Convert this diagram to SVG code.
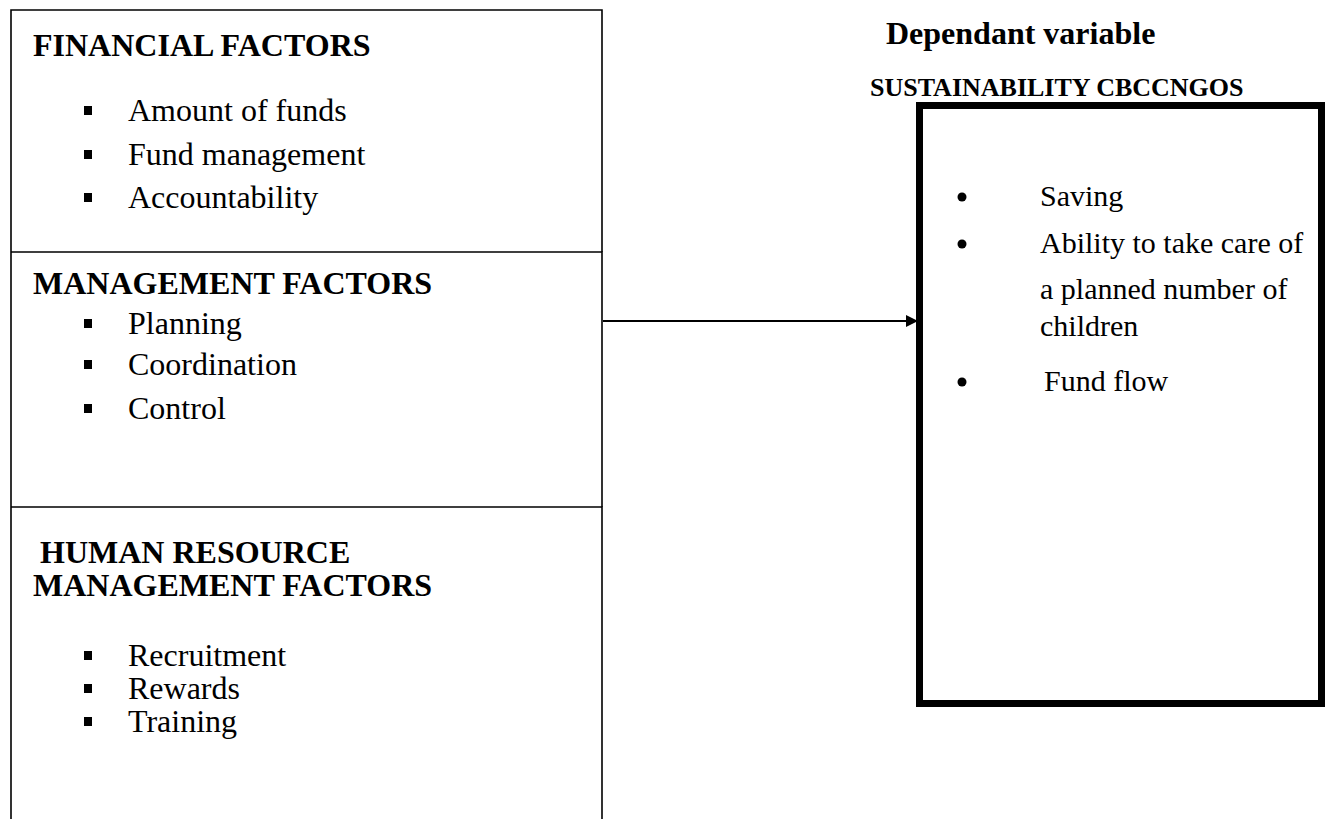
<svg xmlns="http://www.w3.org/2000/svg" width="1325" height="819" viewBox="0 0 1325 819">
<style>
.h{font-family:"Liberation Serif",serif;font-weight:bold;font-size:32px;fill:#000}
.t{font-family:"Liberation Serif",serif;font-size:32px;fill:#000}
.r{font-family:"Liberation Serif",serif;font-size:30px;fill:#000}
.ln{stroke:#000;stroke-width:1.6;fill:none}
.sq{fill:#000}
</style>
<defs>
<marker id="ah" markerWidth="12" markerHeight="12" refX="11" refY="6" orient="auto" markerUnits="userSpaceOnUse">
<path d="M0,0 L12,6 L0,12 Z" fill="#000"/>
</marker>
</defs>
<rect width="1325" height="819" fill="#fff"/>
<g id="financial">
<path class="ln" d="M11,819 L11,10 L602,10 L602,252"/>
<text class="h" x="33" y="56">FINANCIAL FACTORS</text>
<rect class="sq" x="84" y="106" width="8" height="9"/>
<text class="t" x="128" y="121">Amount of funds</text>
<rect class="sq" x="84" y="150" width="8" height="9"/>
<text class="t" x="128" y="165">Fund management</text>
<rect class="sq" x="84" y="193" width="8" height="9"/>
<text class="t" x="128" y="208">Accountability</text>
</g>
<g id="management">
<path class="ln" d="M11,252 L602,252 L602,507"/>
<text class="h" x="33" y="294">MANAGEMENT FACTORS</text>
<rect class="sq" x="84" y="319" width="8" height="9"/>
<text class="t" x="128" y="334">Planning</text>
<rect class="sq" x="84" y="360" width="8" height="9"/>
<text class="t" x="128" y="375">Coordination</text>
<rect class="sq" x="84" y="404" width="8" height="9"/>
<text class="t" x="128" y="419">Control</text>
</g>
<g id="hrm">
<path class="ln" d="M11,507 L602,507 L602,819"/>
<text class="h" x="40" y="563">HUMAN RESOURCE</text>
<text class="h" x="33" y="596">MANAGEMENT FACTORS</text>
<rect class="sq" x="84" y="651" width="8" height="9"/>
<text class="t" x="128" y="666">Recruitment</text>
<rect class="sq" x="84" y="684" width="8" height="9"/>
<text class="t" x="128" y="699">Rewards</text>
<rect class="sq" x="84" y="717" width="8" height="9"/>
<text class="t" x="128" y="732">Training</text>
</g>
<g id="sustainability">
<text class="h" x="886" y="44">Dependant variable</text>
<text class="h" x="870" y="96" style="font-size:26px">SUSTAINABILITY CBCCNGOS</text>
<rect x="919.5" y="105.5" width="402" height="598" fill="none" stroke="#000" stroke-width="7"/>
<circle cx="962" cy="197" r="4.5"/>
<text class="r" x="1040" y="206">Saving</text>
<circle cx="962" cy="244" r="4.5"/>
<text class="r" x="1040" y="253">Ability to take care of</text>
<text class="r" x="1040" y="299">a planned number of</text>
<text class="r" x="1040" y="336">children</text>
<circle cx="962" cy="382" r="4.5"/>
<text class="r" x="1044" y="391">Fund flow</text>
</g>
<g id="connectors">
<line x1="603" y1="321" x2="917" y2="321" stroke="#000" stroke-width="2" marker-end="url(#ah)"/>
</g>
</svg>
